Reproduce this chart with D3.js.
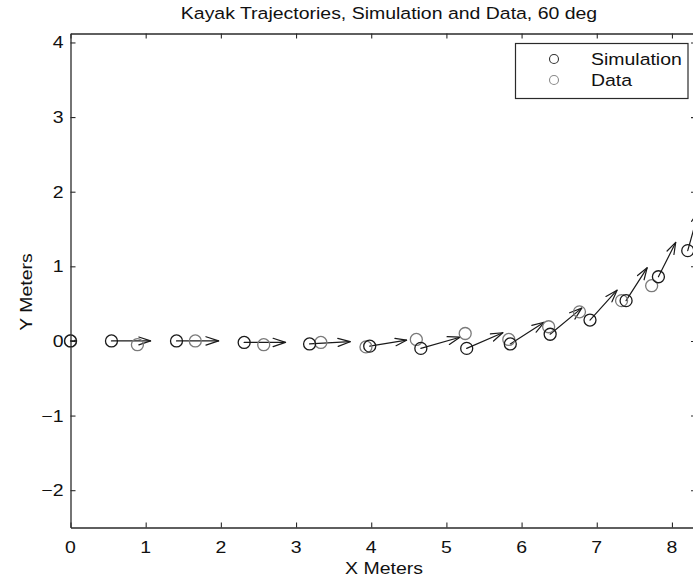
<!DOCTYPE html>
<html>
<head>
<meta charset="utf-8">
<script src="https://cdn.jsdelivr.net/npm/d3@7"></script>
<style>
  html, body { margin: 0; padding: 0; background: #fff; }
  svg { display: block; }
  text { font-family: "Liberation Sans", Arial, Helvetica, sans-serif; fill: #111; }
</style>
</head>
<body>
<svg id="chart" width="693" height="581"></svg>
<script>
// ---- Data ----
const simX = [0, 0.545, 1.41, 2.31, 3.18, 3.98, 4.66, 5.27, 5.85, 6.38, 6.91, 7.39, 7.82, 8.21];
const simY = [0, 0, 0, -0.02, -0.04, -0.07, -0.10, -0.10, -0.04, 0.09, 0.28, 0.54, 0.86, 1.21];
const arrowU = [0.08, 0.52, 0.56, 0.55, 0.54, 0.49, 0.52, 0.48, 0.45, 0.42, 0.36, 0.28, 0.23, 0.15];
const arrowV = [0, 0, 0, 0, 0.03, 0.08, 0.15, 0.21, 0.29, 0.35, 0.40, 0.44, 0.46, 0.54];
const dataX = [0, 0.89, 1.66, 2.57, 3.33, 3.93, 4.60, 5.25, 5.83, 6.36, 6.77, 7.33, 7.73];
const dataY = [0, -0.05, 0, -0.05, -0.02, -0.08, 0.02, 0.10, 0.02, 0.19, 0.39, 0.54, 0.74];
const xTicks = [0, 1, 2, 3, 4, 5, 6, 7, 8];
const yTicks = [-2, -1, 0, 1, 2, 3, 4];
const legendLabels = ["Simulation", "Data"];
const titleText = "Kayak Trajectories, Simulation and Data, 60 deg";
const xLabel = "X Meters";
const yLabel = "Y Meters";

// ---- Layout ----
const svg = d3.select("#chart");
const L = 70.5, R = 696, T = 33.5, B = 527.5;
const x = d3.scaleLinear().domain([0, 8.32]).range([L, R]);
const y = d3.scaleLinear().domain([-2.5, 4.12]).range([B, T]);
const axisColor = "#2a2a2a";
const simColor = "#1a1a1a";
const dataColor = "#7a7a7a";
const SX = 1.18; // horizontal stretch of the original's lettering

function stretchedText(parent, px, py, str, size, anchor, rotate) {
  const g = parent.append("g")
    .attr("transform", `translate(${px},${py})` + (rotate ? ` rotate(${rotate})` : "") + ` scale(${SX},1)`);
  return g.append("text")
    .attr("x", 0).attr("y", 0)
    .attr("font-size", size)
    .attr("text-anchor", anchor)
    .text(str);
}

// ---- Axes (MATLAB box style, inward ticks) ----
const tickLen = 5;
const axB = svg.append("g").attr("transform", `translate(0,${B})`)
  .call(d3.axisBottom(x).tickValues(xTicks).tickSizeInner(-tickLen).tickSizeOuter(0).tickFormat(""));
const axT = svg.append("g").attr("transform", `translate(0,${T})`)
  .call(d3.axisTop(x).tickValues(xTicks).tickSizeInner(-tickLen).tickSizeOuter(0).tickFormat(""));
const axL = svg.append("g").attr("transform", `translate(${L},0)`)
  .call(d3.axisLeft(y).tickValues(yTicks).tickSizeInner(-tickLen).tickSizeOuter(0).tickFormat(""));
const axR = svg.append("g").attr("transform", `translate(${R},0)`)
  .call(d3.axisRight(y).tickValues(yTicks).tickSizeInner(-tickLen).tickSizeOuter(0).tickFormat(""));
[axB, axT, axL, axR].forEach(a => {
  a.selectAll("path.domain").attr("stroke", axisColor).attr("stroke-width", 1.3);
  a.selectAll(".tick line").attr("stroke", axisColor).attr("stroke-width", 1.1);
});

// tick labels
const fmt = v => (v < 0 ? "\u2212" + Math.abs(v) : String(v));
xTicks.forEach(v => stretchedText(svg, x(v), B + 25, fmt(v), 16.5, "middle"));
yTicks.forEach(v => stretchedText(svg, L - 7, y(v) + 6, fmt(v), 16.5, "end"));

// title & axis labels
stretchedText(svg, 389, 19, titleText, 16.5, "middle");
stretchedText(svg, 384, 574, xLabel, 16.5, "middle");
stretchedText(svg, 32, 292, yLabel, 16.5, "middle", -90);

// ---- Arrows (quiver) from simulation points ----
const arrows = svg.append("g").attr("stroke", simColor).attr("stroke-width", 1.2)
  .attr("fill", "none").attr("stroke-linecap", "round").attr("stroke-linejoin", "round");
simX.forEach((sx, i) => {
  const x0 = x(sx), y0 = y(simY[i]);
  const x1 = x(sx + arrowU[i]), y1 = y(simY[i] + arrowV[i]);
  const dx = x1 - x0, dy = y1 - y0;
  const len = Math.hypot(dx, dy);
  arrows.append("line").attr("x1", x0).attr("y1", y0).attr("x2", x1).attr("y2", y1);
  if (len > 0) {
    const ux = dx / len, uy = dy / len;
    const hl = 0.3 * len, hw = 0.1 * len;
    const bx = x1 - ux * hl, by = y1 - uy * hl;
    arrows.append("path")
      .attr("d", `M${bx - uy * hw},${by + ux * hw} L${x1},${y1} L${bx + uy * hw},${by - ux * hw}`);
  }
});

// ---- Circles ----
const r = 6;
svg.append("g").selectAll("circle.data").data(dataX).join("circle")
  .attr("class", "data")
  .attr("cx", (d) => x(d)).attr("cy", (d, i) => y(dataY[i])).attr("r", r)
  .attr("fill", "none").attr("stroke", dataColor).attr("stroke-width", 1.3);
svg.append("g").selectAll("circle.sim").data(simX).join("circle")
  .attr("class", "sim")
  .attr("cx", (d) => x(d)).attr("cy", (d, i) => y(simY[i])).attr("r", r)
  .attr("fill", "none").attr("stroke", simColor).attr("stroke-width", 1.3);

// ---- Legend ----
const lg = svg.append("g");
lg.append("rect").attr("x", 515.5).attr("y", 43.5).attr("width", 172.5).attr("height", 55)
  .attr("fill", "#fff").attr("stroke", axisColor).attr("stroke-width", 1.2);
const legendColors = [ "#333", "#8a8a8a" ];
legendLabels.forEach((lab, i) => {
  const cy = 59 + i * 21;
  lg.append("circle").attr("cx", 554).attr("cy", cy).attr("r", 4.5)
    .attr("fill", "none").attr("stroke", legendColors[i]).attr("stroke-width", 1.1);
  stretchedText(lg, 591, cy + 6, lab, 16.5, "start");
});
</script>
</body>
</html>
